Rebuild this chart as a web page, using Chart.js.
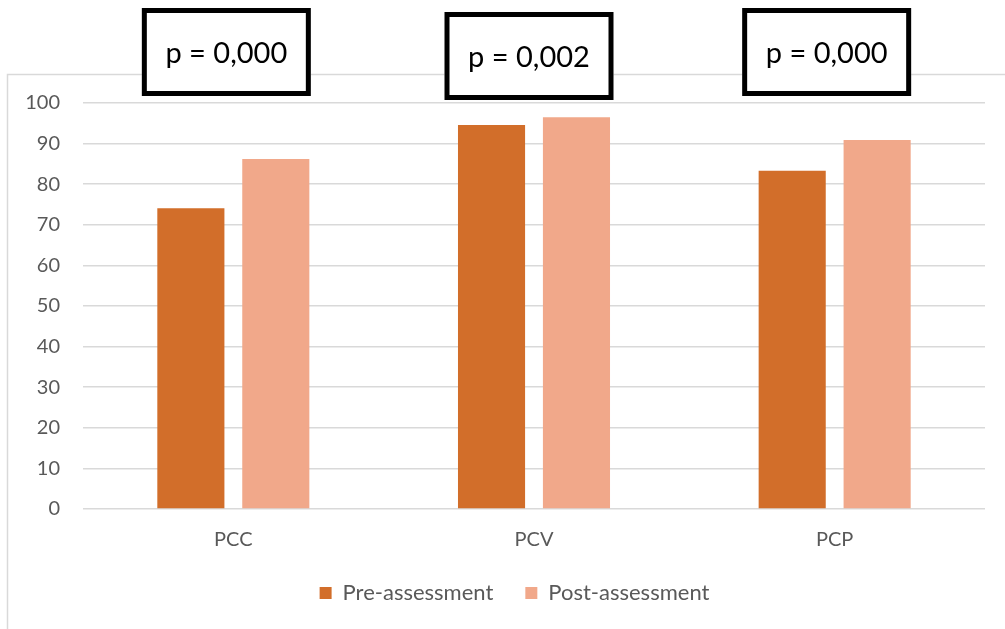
<!DOCTYPE html>
<html>
<head>
<meta charset="utf-8">
<style>
  html, body { margin: 0; padding: 0; background: #ffffff; }
  #wrap { width: 1005px; height: 629px; position: relative; }
</style>
<script src="https://cdn.jsdelivr.net/npm/chart.js@4/dist/chart.umd.min.js"></script>
</head>
<body>
<div id="wrap"><canvas id="c" width="1005" height="629"></canvas></div>
<script>
const categories = ['PCC', 'PCV', 'PCP'];
const preAssessment = [74.1, 94.6, 83.3];
const postAssessment = [86.2, 96.5, 90.9];
const pValues = ['p = 0,000', 'p = 0,002', 'p = 0,000'];
const yTicks = [0, 10, 20, 30, 40, 50, 60, 70, 80, 90, 100];

const FONT = 'Lato, "Open Sans", "Liberation Sans", sans-serif';
const TEXT_GREY = '#595959';
const GRID_GREY = '#d9d9d9';

// Light outer frame around the plot, partly running off the canvas edge
const framePlugin = {
  id: 'frame',
  beforeDraw(chart) {
    const ctx = chart.ctx;
    ctx.save();
    ctx.strokeStyle = '#d9d9d9';
    ctx.lineWidth = 1.5;
    ctx.strokeRect(7.5, 74.5, 1100, 700);
    ctx.restore();
  }
};

// Centre the legend on the whole canvas rather than on the padded layout box
const legendShiftPlugin = {
  id: 'legendShift',
  afterLayout(chart) {
    const lg = chart.legend;
    if (!lg) return;
    const shift = 22;
    lg.left += shift;
    lg.right += shift;
    lg.adjustHitBoxes();
  }
};

// Boxed significance labels above each category
const pBoxPlugin = {
  id: 'pBoxes',
  afterDraw(chart) {
    const ctx = chart.ctx;
    const xs = chart.scales.x;
    const offsets = [-7, -5, -8];
    const tops = [8, 12, 8];
    const w = 169, h = 88;
    ctx.save();
    pValues.forEach((txt, i) => {
      const cx = xs.getPixelForValue(i) + offsets[i];
      const x = cx - w / 2, y = tops[i];
      ctx.fillStyle = '#ffffff';
      ctx.fillRect(x, y, w, h);
      ctx.lineWidth = 5;
      ctx.strokeStyle = '#000000';
      ctx.strokeRect(x + 2.5, y + 2.5, w - 5, h - 5);
      ctx.fillStyle = '#000000';
      ctx.font = '29px ' + FONT;
      ctx.textAlign = 'center';
      ctx.textBaseline = 'middle';
      ctx.fillText(txt, cx, y + h / 2 + 2);
    });
    ctx.restore();
  }
};

new Chart(document.getElementById('c'), {
  type: 'bar',
  data: {
    labels: categories,
    datasets: [
      {
        label: 'Pre-assessment',
        data: preAssessment,
        backgroundColor: '#d26e2a',
        categoryPercentage: 0.565,
        barPercentage: 0.79
      },
      {
        label: 'Post-assessment',
        data: postAssessment,
        backgroundColor: '#f1a88a',
        categoryPercentage: 0.565,
        barPercentage: 0.79
      }
    ]
  },
  options: {
    responsive: false,
    animation: false,
    devicePixelRatio: 1,
    layout: { padding: { top: 103, right: 20, bottom: 15, left: 0 } },
    plugins: {
      tooltip: { enabled: false },
      legend: {
        position: 'bottom',
        labels: {
          boxWidth: 12,
          boxHeight: 12,
          padding: 32,
          color: TEXT_GREY,
          font: { family: FONT, size: 22 }
        }
      }
    },
    scales: {
      x: {
        grid: { display: false, drawTicks: false },
        border: { display: false },
        afterFit(scale) { scale.height = scale.height - 21; },
        ticks: {
          color: TEXT_GREY,
          padding: 19,
          font: { family: FONT, size: 20 }
        }
      },
      y: {
        min: 0,
        max: 100,
        afterBuildTicks(scale) {
          scale.ticks = yTicks.map(v => ({ value: v }));
        },
        afterFit(scale) { scale.width = 83; },
        grid: { color: GRID_GREY, lineWidth: 1.5, drawTicks: false },
        border: { display: false },
        ticks: {
          color: TEXT_GREY,
          padding: 23,
          font: { family: FONT, size: 20 }
        }
      }
    }
  },
  plugins: [framePlugin, legendShiftPlugin, pBoxPlugin]
});
</script>
</body>
</html>
